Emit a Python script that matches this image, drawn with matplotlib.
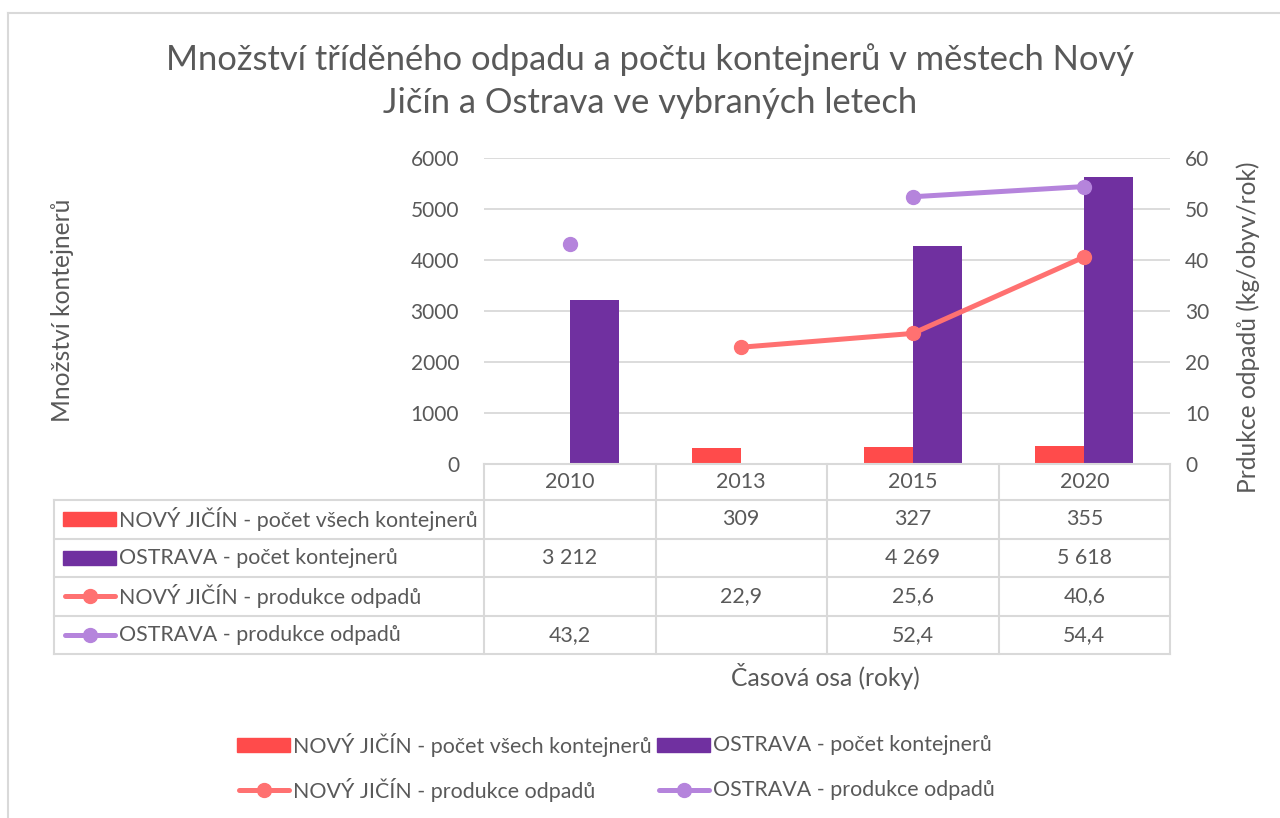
import numpy as np
import matplotlib as mpl
mpl.use('Agg')
import matplotlib.pyplot as plt
import matplotlib.transforms as mtransforms
from matplotlib.lines import Line2D
from matplotlib.patches import Rectangle

# data
years = ['2010', '2013', '2015', '2020']
nj_containers = [np.nan, 309, 327, 355]
ova_containers = [3212, np.nan, 4269, 5618]
nj_waste = [np.nan, 22.9, 25.6, 40.6]
ova_waste = [43.2, np.nan, 52.4, 54.4]

series_names = ['NOVÝ JIČÍN - počet všech kontejnerů',
                'OSTRAVA - počet kontejnerů',
                'NOVÝ JIČÍN - produkce odpadů',
                'OSTRAVA - produkce odpadů']

c_red = '#FF4B4B'
c_purple = '#7030A0'
c_nj_line = '#FF7171'
c_ova_line = '#B584DC'
c_text = '#595959'
c_grid = '#D9D9D9'

mpl.rcParams.update({'font.family': ['Lato', 'DejaVu Sans'], 'text.color': c_text})

W, H = 1280, 818
fs = 15.4      # table / legend text
fs_lab = 17.7  # axis titles


def fx(x):
    return x / W


def fy(y):
    return 1 - y / H


def fmt(v):
    if np.isnan(v):
        return ''
    if float(v).is_integer():
        return '{:,}'.format(int(v)).replace(',', ' ')
    return '{:.1f}'.format(v).replace('.', ',')


fig = plt.figure(figsize=(W / 100, H / 100), dpi=100)

# outer chart border
fig.add_artist(Line2D([fx(8), fx(8)], [fy(13), fy(830)], color=c_grid, lw=1.5))
fig.add_artist(Line2D([fx(8), fx(1290)], [fy(13), fy(13)], color=c_grid, lw=1.5))

ax = fig.add_axes([fx(484), fy(464), (1170 - 484) / W, (464 - 158) / H])
x = np.arange(len(years))
bw = 0.286
ax.bar(x - bw / 2, nj_containers, bw, color=c_red, zorder=2)
ax.bar(x + bw / 2, ova_containers, bw, color=c_purple, zorder=2)
ax.set_xlim(-0.5, len(years) - 0.5)
ax.set_ylim(0, 6000)
ax.set_yticks(range(0, 6001, 1000))
ax.yaxis.grid(True, color=c_grid, lw=1.3, zorder=0)
ax.set_axisbelow(True)
ax.set_xticks([])
for s in ax.spines.values():
    s.set_visible(False)
ax.tick_params(axis='y', length=0, pad=18, labelsize=15, labelcolor=c_text)

ax2 = ax.twinx()
ax2.plot(x, nj_waste, color=c_nj_line, lw=3.6, marker='o', ms=10, solid_capstyle='round')
ax2.plot(x, ova_waste, color=c_ova_line, lw=3.6, marker='o', ms=10, solid_capstyle='round')
ax2.set_ylim(0, 60)
ax2.set_yticks(range(0, 61, 10))
for s in ax2.spines.values():
    s.set_visible(False)
ax2.tick_params(axis='y', length=0, pad=11, labelsize=15, labelcolor=c_text)

# titles and axis labels
fig.text(fx(650), fy(60), 'Množství tříděného odpadu a počtu kontejnerů v městech Nový',
         ha='center', va='center', fontsize=24.8, color=c_text)
fig.text(fx(650), fy(103), 'Jičín a Ostrava ve vybraných letech',
         ha='center', va='center', fontsize=24.8, color=c_text)
fig.text(fx(62), fy(310), 'Množství kontejnerů', rotation=90,
         ha='center', va='center', fontsize=fs_lab, color=c_text)
fig.text(fx(1248), fy(327), 'Prdukce odpadů (kg/obyv/rok)', rotation=90,
         ha='center', va='center', fontsize=fs_lab, color=c_text)
fig.text(fx(825), fy(676), 'Časová osa (roky)', ha='center', va='center',
         fontsize=fs_lab, color=c_text)

# data table below the plot
tr = mtransforms.blended_transform_factory(ax.transData, fig.transFigure)
row_edges = [464, 500, 538.5, 577, 615.5, 654]
for i in range(len(years) + 1):
    xe = i - 0.5
    fig.add_artist(Line2D([xe, xe], [fy(464), fy(654)], transform=tr, color=c_grid, lw=1.5))
fig.add_artist(Line2D([fx(54), fx(54)], [fy(500), fy(654)], color=c_grid, lw=1.5))
fig.add_artist(Line2D([fx(484), fx(1170)], [fy(464), fy(464)], color=c_grid, lw=1.5))
for ye in row_edges[1:]:
    fig.add_artist(Line2D([fx(54), fx(1170)], [fy(ye), fy(ye)], color=c_grid, lw=1.5))

for i, yr in enumerate(years):
    fig.text(i, fy(482), yr, transform=tr, ha='center', va='center', fontsize=fs, color=c_text)

table_rows = [nj_containers, ova_containers, nj_waste, ova_waste]
for r, vals in enumerate(table_rows):
    yc = (row_edges[r + 1] + row_edges[r + 2]) / 2
    for i, v in enumerate(vals):
        fig.text(i, fy(yc), fmt(v), transform=tr, ha='center', va='center',
                 fontsize=fs, color=c_text)


def key(x0, yc, kind, color):
    if kind == 'bar':
        fig.add_artist(Rectangle((fx(x0), fy(yc + 7)), 53 / W, 14 / H, color=color,
                                 transform=fig.transFigure))
    else:
        fig.add_artist(Line2D([fx(x0 + 2), fx(x0 + 52)], [fy(yc), fy(yc)], color=color,
                              lw=3.6, solid_capstyle='round'))
        fig.add_artist(Line2D([fx(x0 + 27)], [fy(yc)], color=color, marker='o', ms=10, lw=0))


kinds = ['bar', 'bar', 'line', 'line']
colors = [c_red, c_purple, c_nj_line, c_ova_line]
for r in range(4):
    yc = (row_edges[r + 1] + row_edges[r + 2]) / 2
    key(63, yc, kinds[r], colors[r])
    fig.text(fx(119), fy(yc), series_names[r], ha='left', va='center', fontsize=fs, color=c_text)

# bottom legend
legend_pos = [(237, 745), (657, 745), (237, 790), (657, 790)]
for r, (lx, ly) in enumerate(legend_pos):
    key(lx, ly, kinds[r], colors[r])
    fig.text(fx(lx + 56), fy(ly), series_names[r], ha='left', va='center', fontsize=fs, color=c_text)

fig.savefig('out.png', dpi=100)
